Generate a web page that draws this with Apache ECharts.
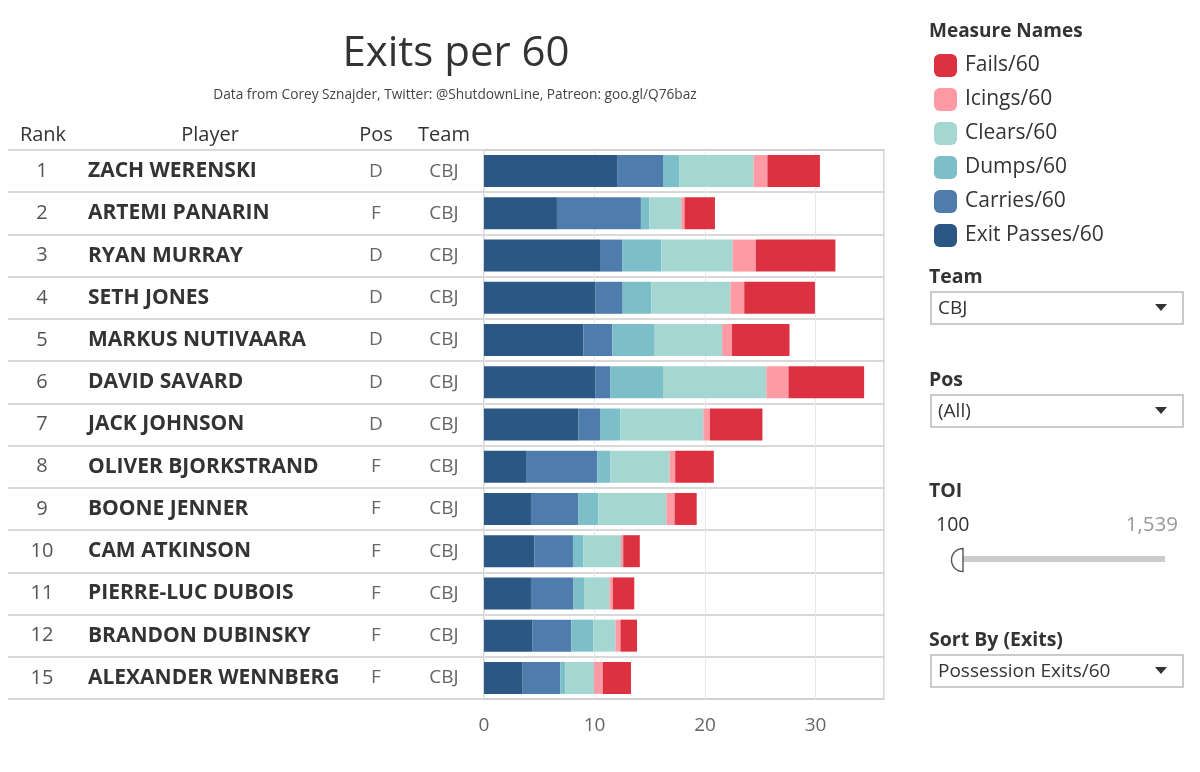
<!DOCTYPE html>
<html>
<head>
<meta charset="utf-8">
<script src="https://cdn.jsdelivr.net/npm/echarts@6/dist/echarts.min.js"></script>
<style>html,body{margin:0;padding:0;background:#fff;}#main{width:1200px;height:772px;}</style>
</head>
<body>
<div id="main"></div>
<script>
// ---- data ----
const ranks = ['1','2','3','4','5','6','7','8','9','10','11','12','15'];
const players = ['ZACH WERENSKI','ARTEMI PANARIN','RYAN MURRAY','SETH JONES','MARKUS NUTIVAARA','DAVID SAVARD','JACK JOHNSON','OLIVER BJORKSTRAND','BOONE JENNER','CAM ATKINSON','PIERRE-LUC DUBOIS','BRANDON DUBINSKY','ALEXANDER WENNBERG'];
const positions = ['D','F','D','D','D','D','D','F','F','F','F','F','F'];
const teams = ['CBJ','CBJ','CBJ','CBJ','CBJ','CBJ','CBJ','CBJ','CBJ','CBJ','CBJ','CBJ','CBJ'];
const exitPasses = [12.1, 6.6, 10.5, 10.1, 9.0, 10.1, 8.55, 3.8, 4.25, 4.55, 4.25, 4.4, 3.5];
const carries    = [4.1, 7.6, 2.0, 2.45, 2.6, 1.35, 1.95, 6.45, 4.3, 3.5, 3.85, 3.5, 3.4];
const dumps      = [1.5, 0.75, 3.55, 2.6, 3.85, 4.75, 1.85, 1.2, 1.8, 0.95, 0.95, 2.0, 0.45];
const clears     = [6.7, 2.9, 6.45, 7.15, 6.1, 9.35, 7.5, 5.35, 6.15, 3.4, 2.3, 2.0, 2.6];
const icings     = [1.25, 0.3, 2.1, 1.25, 0.9, 2.0, 0.6, 0.5, 0.75, 0.2, 0.3, 0.45, 0.8];
const fails      = [4.75, 2.75, 7.2, 6.4, 5.2, 6.85, 4.75, 3.5, 2.0, 1.5, 1.95, 1.5, 2.55];
const xTicks = [0, 10, 20, 30];
const legendOrder = ['Fails/60','Icings/60','Clears/60','Dumps/60','Carries/60','Exit Passes/60'];

const FONT = 'Open Sans';
const seriesDefs = [
  {name:'Exit Passes/60', data: exitPasses, color:'#2a5783'},
  {name:'Carries/60', data: carries, color:'#4e7cac'},
  {name:'Dumps/60', data: dumps, color:'#7dbfc9'},
  {name:'Clears/60', data: clears, color:'#a4d6d2'},
  {name:'Icings/60', data: icings, color:'#fe9aa4'},
  {name:'Fails/60', data: fails, color:'#dc3140'}
];

const chart = echarts.init(document.getElementById('main'));

function catAxis(grid, data, margin, align, style, showSplit) {
  return {
    type:'category', gridIndex: grid, data: data, inverse: true, position:'left', offset:0,
    axisLine:{show:false}, axisTick:{show:false},
    splitLine:{show: !!showSplit, lineStyle:{color:'#cccccc', width:1.5}},
    axisLabel: style ? Object.assign({show:true, margin: margin, align: align, fontFamily: FONT}, style) : {show:false}
  };
}

const headerText = (t, x) => ({type:'text', x: x, y: 135,
  style:{text:t, align:'center', verticalAlign:'middle', fontFamily:FONT, fontSize:20, fill:'#333'}});

function dropdown(y, label, value) {
  return [
    {type:'text', x:929, y:y-15, style:{text:label, align:'left', verticalAlign:'middle', fontFamily:FONT, fontSize:19.5, fontWeight:'bold', fill:'#333'}},
    {type:'rect', shape:{x:931, y:y, width:252, height:32}, style:{fill:'#fff', stroke:'#bbbbbb', lineWidth:1.5}},
    {type:'text', x:938, y:y+17, style:{text:value, align:'left', verticalAlign:'middle', fontFamily:FONT, fontSize:19, fill:'#333'}},
    {type:'polygon', shape:{points:[[1155,y+12],[1167,y+12],[1161,y+19]]}, style:{fill:'#333'}}
  ];
}

const option = {
  animation:false,
  backgroundColor:'#fff',
  title:[
    {text:'Exits per 60', left:451, top:28, textAlign:'center',
     textStyle:{fontFamily:FONT, fontSize:42, fontWeight:'normal', color:'#333'}},
    {text:'Data from Corey Sznajder, Twitter: @ShutdownLine, Patreon: goo.gl/Q76baz', left:450, top:83, textAlign:'center',
     textStyle:{fontFamily:FONT, fontSize:13.7, fontWeight:'normal', color:'#444'}},
    {text:'Measure Names', left:924, top:17, textStyle:{fontFamily:FONT, fontSize:19, fontWeight:'bold', color:'#333'}}
  ],
  legend:{
    orient:'vertical', left:929, top:49, itemWidth:23, itemHeight:23, itemGap:11,
    icon:'roundRect', data: legendOrder, selectedMode:false,
    textStyle:{fontFamily:FONT, fontSize:21, color:'#333', padding:[0,0,0,3]}
  },
  grid:[
    {left:8, width:876, top:150, height:549, show:false, outerBoundsMode:'none', containLabel:false},
    {left:484, width:400, top:150, height:549, show:true, borderColor:'#cccccc', borderWidth:1.5, outerBoundsMode:'none', containLabel:false}
  ],
  xAxis:[
    {type:'value', gridIndex:0, show:false, min:0, max:1},
    {type:'value', gridIndex:1, min:0, max:36.2, interval:10,
     axisLine:{show:false}, axisTick:{show:false},
     splitLine:{show:true, lineStyle:{color:'#e8e8e8', width:1}},
     axisLabel:{margin:17, fontFamily:FONT, fontSize:19, color:'#666', showMaxLabel:false,
       formatter: v => xTicks.indexOf(v) >= 0 ? String(v) : ''}}
  ],
  yAxis:[
    catAxis(0, players, 0, 'left', null, true),
    catAxis(1, players, 396, 'left', {fontSize:21, fontWeight:'bold', color:'#333'}),
    catAxis(1, ranks, 442, 'center', {fontSize:20, color:'#555'}),
    catAxis(1, positions, 108, 'center', {fontSize:19, color:'#666'}),
    catAxis(1, teams, 40, 'center', {fontSize:19, color:'#666'})
  ],
  series: seriesDefs.map(s => ({
    name:s.name, type:'bar', stack:'exits', xAxisIndex:1, yAxisIndex:1,
    barWidth:32, data:s.data, itemStyle:{color:s.color}
  })),
  graphic:[
    headerText('Rank', 43),
    headerText('Player', 210),
    headerText('Pos', 376),
    headerText('Team', 444),
    ...dropdown(292, 'Team', 'CBJ'),
    ...dropdown(395, 'Pos', '(All)'),
    {type:'text', x:929, y:491, style:{text:'TOI', align:'left', verticalAlign:'middle', fontFamily:FONT, fontSize:19.5, fontWeight:'bold', fill:'#333'}},
    {type:'text', x:936, y:525, style:{text:'100', align:'left', verticalAlign:'middle', fontFamily:FONT, fontSize:19.5, fill:'#333'}},
    {type:'text', x:1178, y:525, style:{text:'1,539', align:'right', verticalAlign:'middle', fontFamily:FONT, fontSize:20.5, fill:'#9a9a9a'}},
    {type:'rect', shape:{x:962, y:556, width:203, height:6}, style:{fill:'#cccccc'}},
    {type:'sector', shape:{cx:963, cy:560, r0:0, r:11.5, startAngle:Math.PI/2, endAngle:Math.PI*1.5, clockwise:true}, style:{fill:'#fff', stroke:'#555', lineWidth:1.4}},
    ...dropdown(655, 'Sort By (Exits)', 'Possession Exits/60')
  ]
};
chart.setOption(option);
</script>
</body>
</html>
